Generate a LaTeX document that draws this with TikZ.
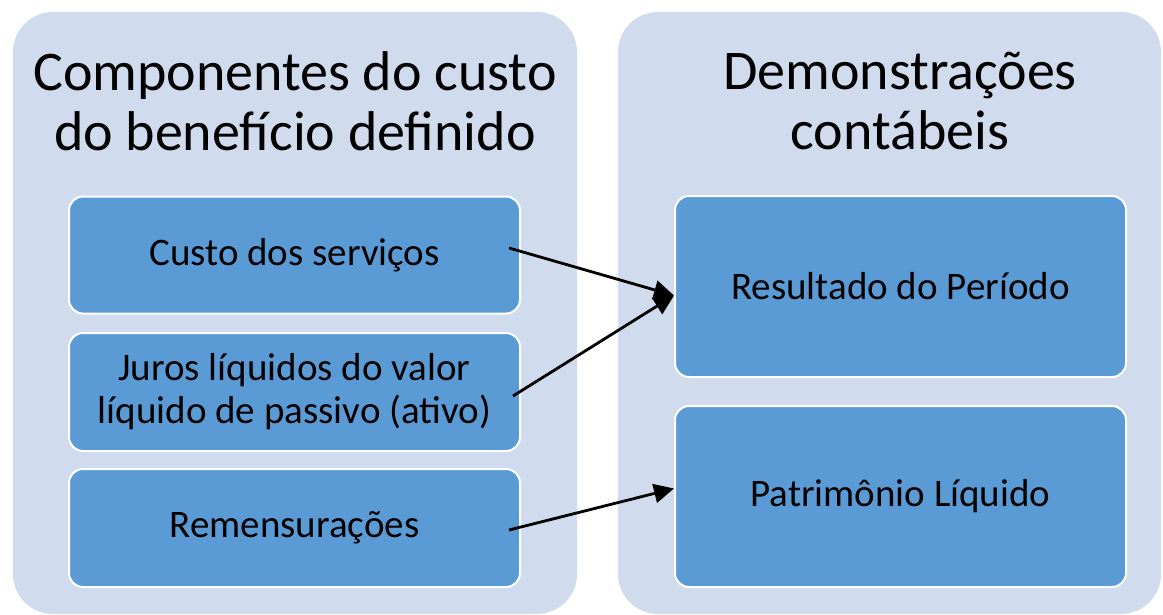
\documentclass[tikz,border=0pt]{standalone}
\usepackage{fontspec}
\setmainfont{Carlito}
\usetikzlibrary{arrows.meta,positioning}
\definecolor{panelblue}{RGB}{208,220,238}
\definecolor{boxblue}{RGB}{91,155,213}

\begin{document}
\begin{tikzpicture}[x=1pt, y=-1pt,
  panel/.style={fill=panelblue, rounded corners=40pt, minimum height=602pt},
  heading/.style={align=center, font=\fontsize{56}{60}\selectfont},
  item/.style={fill=boxblue, draw=white, line width=2pt, rounded corners=14pt,
    minimum width=451pt, align=center, font=\fontsize{39}{43}\selectfont},
  link/.style={-{Triangle[length=20pt,width=19pt]}, line width=2.8pt}]
\useasboundingbox (0,0) rectangle (1163,614);

% panels
\node[panel, minimum width=564pt] (comp) at (295,313) {};
\node[panel, minimum width=543pt] (demo) at (889.5,313) {};

\node[heading] (comptitle) at (295,101) {Componentes do custo\\do benefício definido};
\node[heading] (demotitle) at (900,101) {Demonstrações\\contábeis};

% left boxes
\node[item, minimum height=117pt] (serv) at (294.5,255) {Custo dos serviços};
\node[item, minimum height=118pt] (juros) at (294.5,392) {Juros líquidos do valor\\líquido de passivo (ativo)};
\node[item, minimum height=118pt] (remen) at (294.5,528) {Remensurações};

% right boxes
\node[item, minimum height=181pt] (res) at (900.5,286.5) {Resultado do Período};
\node[item, minimum height=181pt] (pl) at (900.5,496.5) {Patrimônio Líquido};

% arrows
\draw[link] ([xshift=-12pt,yshift=7pt]serv.east) -- ([yshift=-9pt]res.west);
\draw[link] ([xshift=-8pt,yshift=-4pt]juros.east) -- ([yshift=-9pt]res.west);
\draw[link] ([xshift=-12pt,yshift=-2pt]remen.east) -- ([yshift=8pt]pl.west);
\end{tikzpicture}
\end{document}
